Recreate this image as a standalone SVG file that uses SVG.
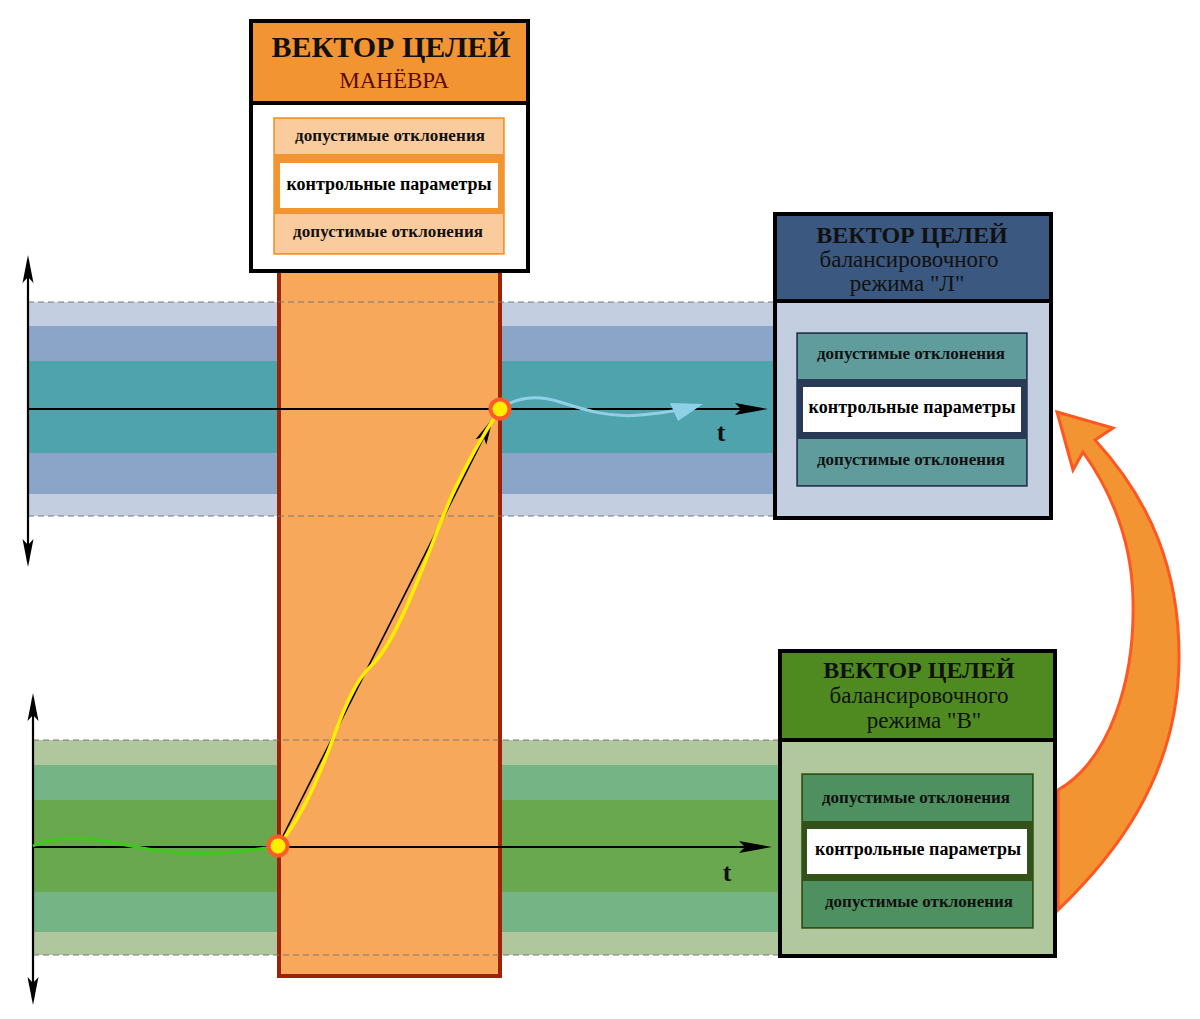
<svg xmlns="http://www.w3.org/2000/svg" width="1200" height="1019" viewBox="0 0 1200 1019">
<style>
.serif{font-family:"Liberation Serif","DejaVu Serif",serif;}
.title{font-family:"Liberation Serif",serif;font-weight:bold;fill:#111;text-anchor:middle;}
.sub{font-family:"Liberation Serif",serif;fill:#111;text-anchor:middle;}
.row{font-family:"Liberation Serif",serif;font-weight:bold;fill:#111;text-anchor:middle;font-size:17px;}
.ctl{font-family:"Liberation Serif",serif;font-weight:bold;fill:#000;text-anchor:middle;font-size:18px;}
.dash{stroke:#777;stroke-width:1;stroke-dasharray:6 4;fill:none;}
.axis{stroke:#000;stroke-width:2.2;fill:none;}
.frame{fill:none;stroke:#000;stroke-width:4;}
.pt{fill:#FFEE00;stroke:#FF5A28;stroke-width:4;}
</style>

<g id="bands-top">
<rect x="28" y="302" width="748" height="214" fill="#C3CFE0"/>
<rect x="28" y="326" width="748" height="168" fill="#8BA5C8"/>
<rect x="28" y="361" width="748" height="92" fill="#4FA3AD"/>
</g>
<g id="bands-bottom">
<rect x="33" y="740" width="745" height="215" fill="#B0C79D"/>
<rect x="33" y="765" width="745" height="167" fill="#75B484"/>
<rect x="33" y="800" width="745" height="92" fill="#6AA84F"/>
</g>

<g id="maneuver-column">
<rect x="279" y="268" width="221" height="708" fill="#F7A85A" stroke="#9E2205" stroke-width="4"/>
</g>

<g id="dashes">
<line class="dash" x1="28" y1="302" x2="776" y2="302"/>
<line class="dash" x1="28" y1="516" x2="776" y2="516"/>
<line class="dash" x1="33" y1="740" x2="778" y2="740"/>
<line class="dash" x1="33" y1="955" x2="778" y2="955"/>
</g>

<g id="connectors">
<line class="axis" x1="28" y1="260" x2="28" y2="562"/>
<path d="M28,255 L33.5,283 L28,277 L22.5,283 Z" fill="#000"/>
<path d="M28,567 L33.5,539 L28,545 L22.5,539 Z" fill="#000"/>
<line class="axis" x1="28" y1="409" x2="745" y2="409"/>
<path d="M768,409 L735,403 L741,409 L735,415 Z" fill="#000"/>
<line class="axis" x1="33" y1="698" x2="33" y2="1000"/>
<path d="M33,693 L38.5,721 L33,715 L27.5,721 Z" fill="#000"/>
<path d="M33,1005 L38.5,977 L33,983 L27.5,977 Z" fill="#000"/>
<line class="axis" x1="33" y1="847" x2="750" y2="847"/>
<path d="M772,847 L739,841 L745,847 L739,853 Z" fill="#000"/>
<line x1="280" y1="842" x2="484" y2="437" stroke="#000" stroke-width="1.6"/>
<path d="M493,418 L486.3,444.7 L483.6,436.8 L475.6,439.3 Z" fill="#000"/>
<path d="M33,846 C50,838 80,836 110,842 C140,848 180,856 220,853 C245,851 260,849 275,847" fill="none" stroke="#3DCB1A" stroke-width="3"/>
<path d="M278,846 C300,820 315,785 328,752 C340,720 352,683 372,665 C392,645 410,600 428,555 C445,510 460,470 500,409" fill="none" stroke="#FFEE00" stroke-width="3.5"/>
<path d="M500,409 C515,398 535,394 560,402 C585,410 610,418 640,415 C655,414 665,412 680,410" fill="none" stroke="#8ED1E6" stroke-width="3"/>
<path d="M703,404 L670,403 L678,421 Z" fill="#8ED1E6"/>
<circle class="pt" cx="278" cy="846" r="9.5"/>
<circle class="pt" cx="500" cy="409" r="9.5"/>
<path d="M1058,790 C1110,760 1135,680 1133,600 C1132,540 1110,490 1083,452 L1073,470 L1057,412 L1113,428 L1095,440 C1150,500 1180,570 1179,660 C1178,780 1110,860 1058,910 Z" fill="#F29432" stroke="#FF5722" stroke-width="3" stroke-linejoin="miter"/>
</g>

<g id="t-labels">
<text x="721" y="441" class="serif" font-size="26" font-weight="bold" text-anchor="middle" fill="#111">t</text>
<text x="727" y="881" class="serif" font-size="26" font-weight="bold" text-anchor="middle" fill="#111">t</text>
</g>

<g id="node-maneuver">
<rect x="251" y="21" width="277" height="250" fill="#fff"/>
<rect x="251" y="21" width="277" height="82" fill="#F29432"/>
<line x1="251" y1="103" x2="528" y2="103" stroke="#000" stroke-width="4"/>
<rect class="frame" x="251" y="21" width="277" height="250"/>
<text class="title" x="391" y="57" font-size="30">ВЕКТОР ЦЕЛЕЙ</text>
<text class="sub" x="394" y="88" font-size="23" style="fill:#5B0A00">МАНЁВРА</text>
<rect x="274" y="118" width="230" height="136" fill="#F29432" stroke="#F29432" stroke-width="1.5"/>
<rect x="275" y="119" width="228" height="35" fill="#FACB9C"/>
<rect x="275" y="214" width="228" height="39" fill="#FACB9C"/>
<rect x="280" y="163" width="218" height="45" fill="#fff"/>
<text class="row" x="390" y="141" textLength="190">допустимые отклонения</text>
<text class="ctl" x="389" y="190" textLength="205">контрольные параметры</text>
<text class="row" x="388" y="237" textLength="190">допустимые отклонения</text>
</g>

<g id="node-mode-L">
<rect x="775" y="214" width="276" height="304" fill="#C3CFE0"/>
<rect x="775" y="214" width="276" height="87" fill="#3B5880"/>
<line x1="775" y1="301" x2="1051" y2="301" stroke="#000" stroke-width="4"/>
<rect class="frame" x="775" y="214" width="276" height="304"/>
<text class="title" x="912" y="243" font-size="24">ВЕКТОР ЦЕЛЕЙ</text>
<text class="sub" x="909" y="267" font-size="23">балансировочного</text>
<text class="sub" x="907" y="291" font-size="23">режима "Л"</text>
<rect x="797" y="333" width="230" height="153" fill="#283A55" stroke="#283A55" stroke-width="1.5"/>
<rect x="798" y="334" width="228" height="45" fill="#609C9C"/>
<rect x="798" y="439" width="228" height="46" fill="#609C9C"/>
<rect x="803" y="387" width="218" height="45" fill="#fff"/>
<text class="row" x="911" y="359" textLength="188">допустимые отклонения</text>
<text class="ctl" x="912" y="413" textLength="207">контрольные параметры</text>
<text class="row" x="911" y="465" textLength="188">допустимые отклонения</text>
</g>

<g id="node-mode-B">
<rect x="780" y="651" width="275" height="305" fill="#B1C89E"/>
<rect x="780" y="651" width="275" height="89" fill="#4E8A1F"/>
<line x1="780" y1="740" x2="1055" y2="740" stroke="#000" stroke-width="4"/>
<rect class="frame" x="780" y="651" width="275" height="305"/>
<text class="title" x="919" y="678" font-size="24">ВЕКТОР ЦЕЛЕЙ</text>
<text class="sub" x="919" y="703" font-size="23">балансировочного</text>
<text class="sub" x="924" y="728" font-size="23">режима "В"</text>
<rect x="802" y="774" width="231" height="154" fill="#33521A" stroke="#33521A" stroke-width="1.5"/>
<rect x="803" y="775" width="229" height="46" fill="#4E9060"/>
<rect x="803" y="881" width="229" height="46" fill="#4E9060"/>
<rect x="807" y="829" width="220" height="45" fill="#fff"/>
<text class="row" x="916" y="803" textLength="188">допустимые отклонения</text>
<text class="ctl" x="918" y="855" textLength="206">контрольные параметры</text>
<text class="row" x="919" y="907" textLength="188">допустимые отклонения</text>
</g>
</svg>
